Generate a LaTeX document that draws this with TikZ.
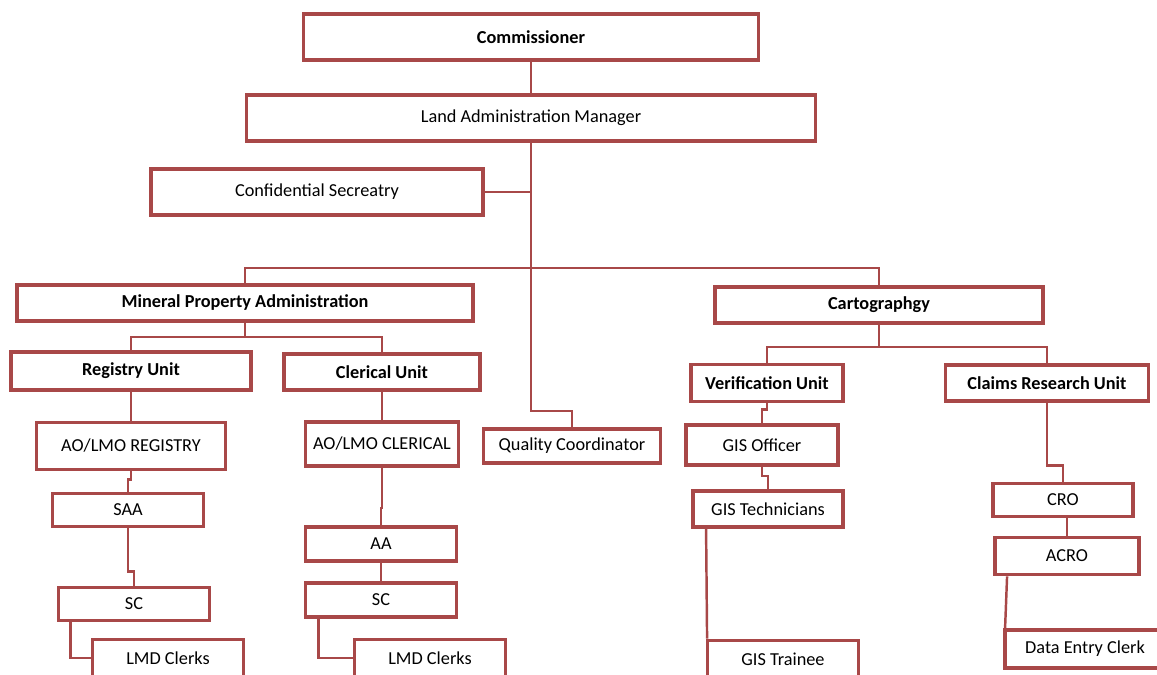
\documentclass[tikz,border=0pt]{standalone}
\usepackage{fontspec}
\setmainfont{Carlito}
\usetikzlibrary{shadows}
\definecolor{boxred}{RGB}{168,72,72}
\tikzset{
  box/.style = {draw = boxred, line width = 2.2pt, fill = white, inner sep = 0pt,
    font = \fontsize{10.4}{12}\selectfont,
    drop shadow = {shadow xshift = .6pt, shadow yshift = -.9pt, opacity = .25}},
  head/.style = {box, font = \fontsize{10.4}{12}\selectfont\bfseries},
  link/.style = {draw = boxred, line width = 1.4pt}
}
\begin{document}
\begin{tikzpicture}[x = .02cm, y = -.02cm]
  \useasboundingbox (0,0) rectangle (1157,675);
  % top of the chart
  \node [head, minimum width = 9.1cm, minimum height = .92cm] (comm) at (531,37) {Commissioner};
  \node [box, minimum width = 11.38cm, minimum height = .92cm] (lam) at (531,118) {Land Administration Manager};
  \node [box, minimum width = 6.64cm, minimum height = .92cm] (conf) at (317,192) {Confidential Secreatry};
  \node [head, minimum width = 9.12cm, minimum height = .72cm] (mpa) at (245,303) {Mineral Property Administration};
  \node [head, minimum width = 6.56cm, minimum height = .72cm] (carto) at (879,305) {Cartographgy};
  \node [box, minimum width = 3.54cm, minimum height = .68cm] (qc) at (572,446) {Quality Coordinator};
  % units
  \node [head, minimum width = 4.8cm, minimum height = .76cm] (reg) at (131,371) {Registry Unit};
  \node [head, minimum width = 3.92cm, minimum height = .72cm] (cler) at (382,372) {Clerical Unit};
  \node [head, minimum width = 3.04cm, minimum height = .74cm] (ver) at (767,383) {Verification Unit};
  \node [head, minimum width = 4.06cm, minimum height = .72cm] (claims) at (1047,383) {Claims Research Unit};
  % registry staff
  \node [box, minimum width = 3.78cm, minimum height = .94cm] (aoreg) at (131,446) {AO/LMO REGISTRY};
  \node [box, minimum width = 3.02cm, minimum height = .66cm] (saa) at (128,510) {SAA};
  \node [box, minimum width = 3.02cm, minimum height = .66cm] (screg) at (134,604) {SC};
  \node [box, minimum width = 3.02cm, minimum height = .74cm] (lmdreg) at (168,658) {LMD Clerks};
  % clerical staff
  \node [box, minimum width = 3.06cm, minimum height = .88cm] (aocler) at (382,444) {AO/LMO CLERICAL};
  \node [box, minimum width = 3.02cm, minimum height = .68cm] (aa) at (381,544) {AA};
  \node [box, minimum width = 3.02cm, minimum height = .68cm] (sccler) at (381,600) {SC};
  \node [box, minimum width = 3.02cm, minimum height = .74cm] (lmdcler) at (430,658) {LMD Clerks};
  % verification staff
  \node [box, minimum width = 3.04cm, minimum height = .8cm] (gisoff) at (762,445) {GIS Officer};
  \node [box, minimum width = 3cm, minimum height = .72cm] (gistech) at (768,509) {GIS Technicians};
  \node [box, minimum width = 3.02cm, minimum height = .74cm] (gistrain) at (783,659) {GIS Trainee};
  % claims research staff
  \node [box, minimum width = 2.8cm, minimum height = .66cm] (cro) at (1063,500) {CRO};
  \node [box, minimum width = 2.88cm, minimum height = .74cm] (acro) at (1067,556) {ACRO};
  \node [box, minimum width = 3.2cm, minimum height = .76cm] (dec) at (1085,649) {Data Entry Clerk};
  % bends of the lines
  \coordinate (split) at (531,268);
  \coordinate (qcbend) at (531,411);
  \coordinate (mpabus) at (245,337);
  \coordinate (cartobus) at (879,347);
  \draw [link] (comm) -- (lam);
  \draw [link] (lam.south) -- (qcbend) -| (qc.north);
  \draw [link] (conf.east) -- (conf.east -| lam.south);
  \draw [link] (mpa.north) |- (split) -| (carto.north);
  \draw [link] (mpa.south) -- (mpabus);
  \draw [link] (reg.north) |- (mpabus) -| (cler.north);
  \draw [link] (carto.south) -- (cartobus);
  \draw [link] (ver.north) |- (cartobus) -| (claims.north);
  \draw [link] (reg) -- (aoreg);
  \draw [link] (aoreg.south) -- ++(0,8) -| (saa.north);
  \draw [link] (saa.south) -- ++(0,43) -| (screg.north);
  \draw [link] ([xshift = .28cm]screg.south west) |- (lmdreg.west);
  \draw [link] (cler) -- (aocler);
  \draw [link] (aocler.south) -- ++(0,40) -| (aa.north);
  \draw [link] (aa) -- (sccler);
  \draw [link] ([xshift = .3cm]sccler.south west) |- (lmdcler.west);
  \draw [link] (ver.south) -- ++(0,6) -| (gisoff.north);
  \draw [link] (gisoff.south) -- ++(0,9) -| (gistech.north);
  \draw [link] ([xshift = .3cm]gistech.south west) -- ([xshift = .03cm]gistrain.north west);
  \draw [link] (claims.south) |- ([yshift = .32cm]cro.north) -- (cro.north);
  \draw [link] (acro.north |- cro.south) -- (acro.north);
  \draw [link] ([xshift = .28cm]acro.south west) -- ([xshift = .04cm]dec.north west);
\end{tikzpicture}
\end{document}
